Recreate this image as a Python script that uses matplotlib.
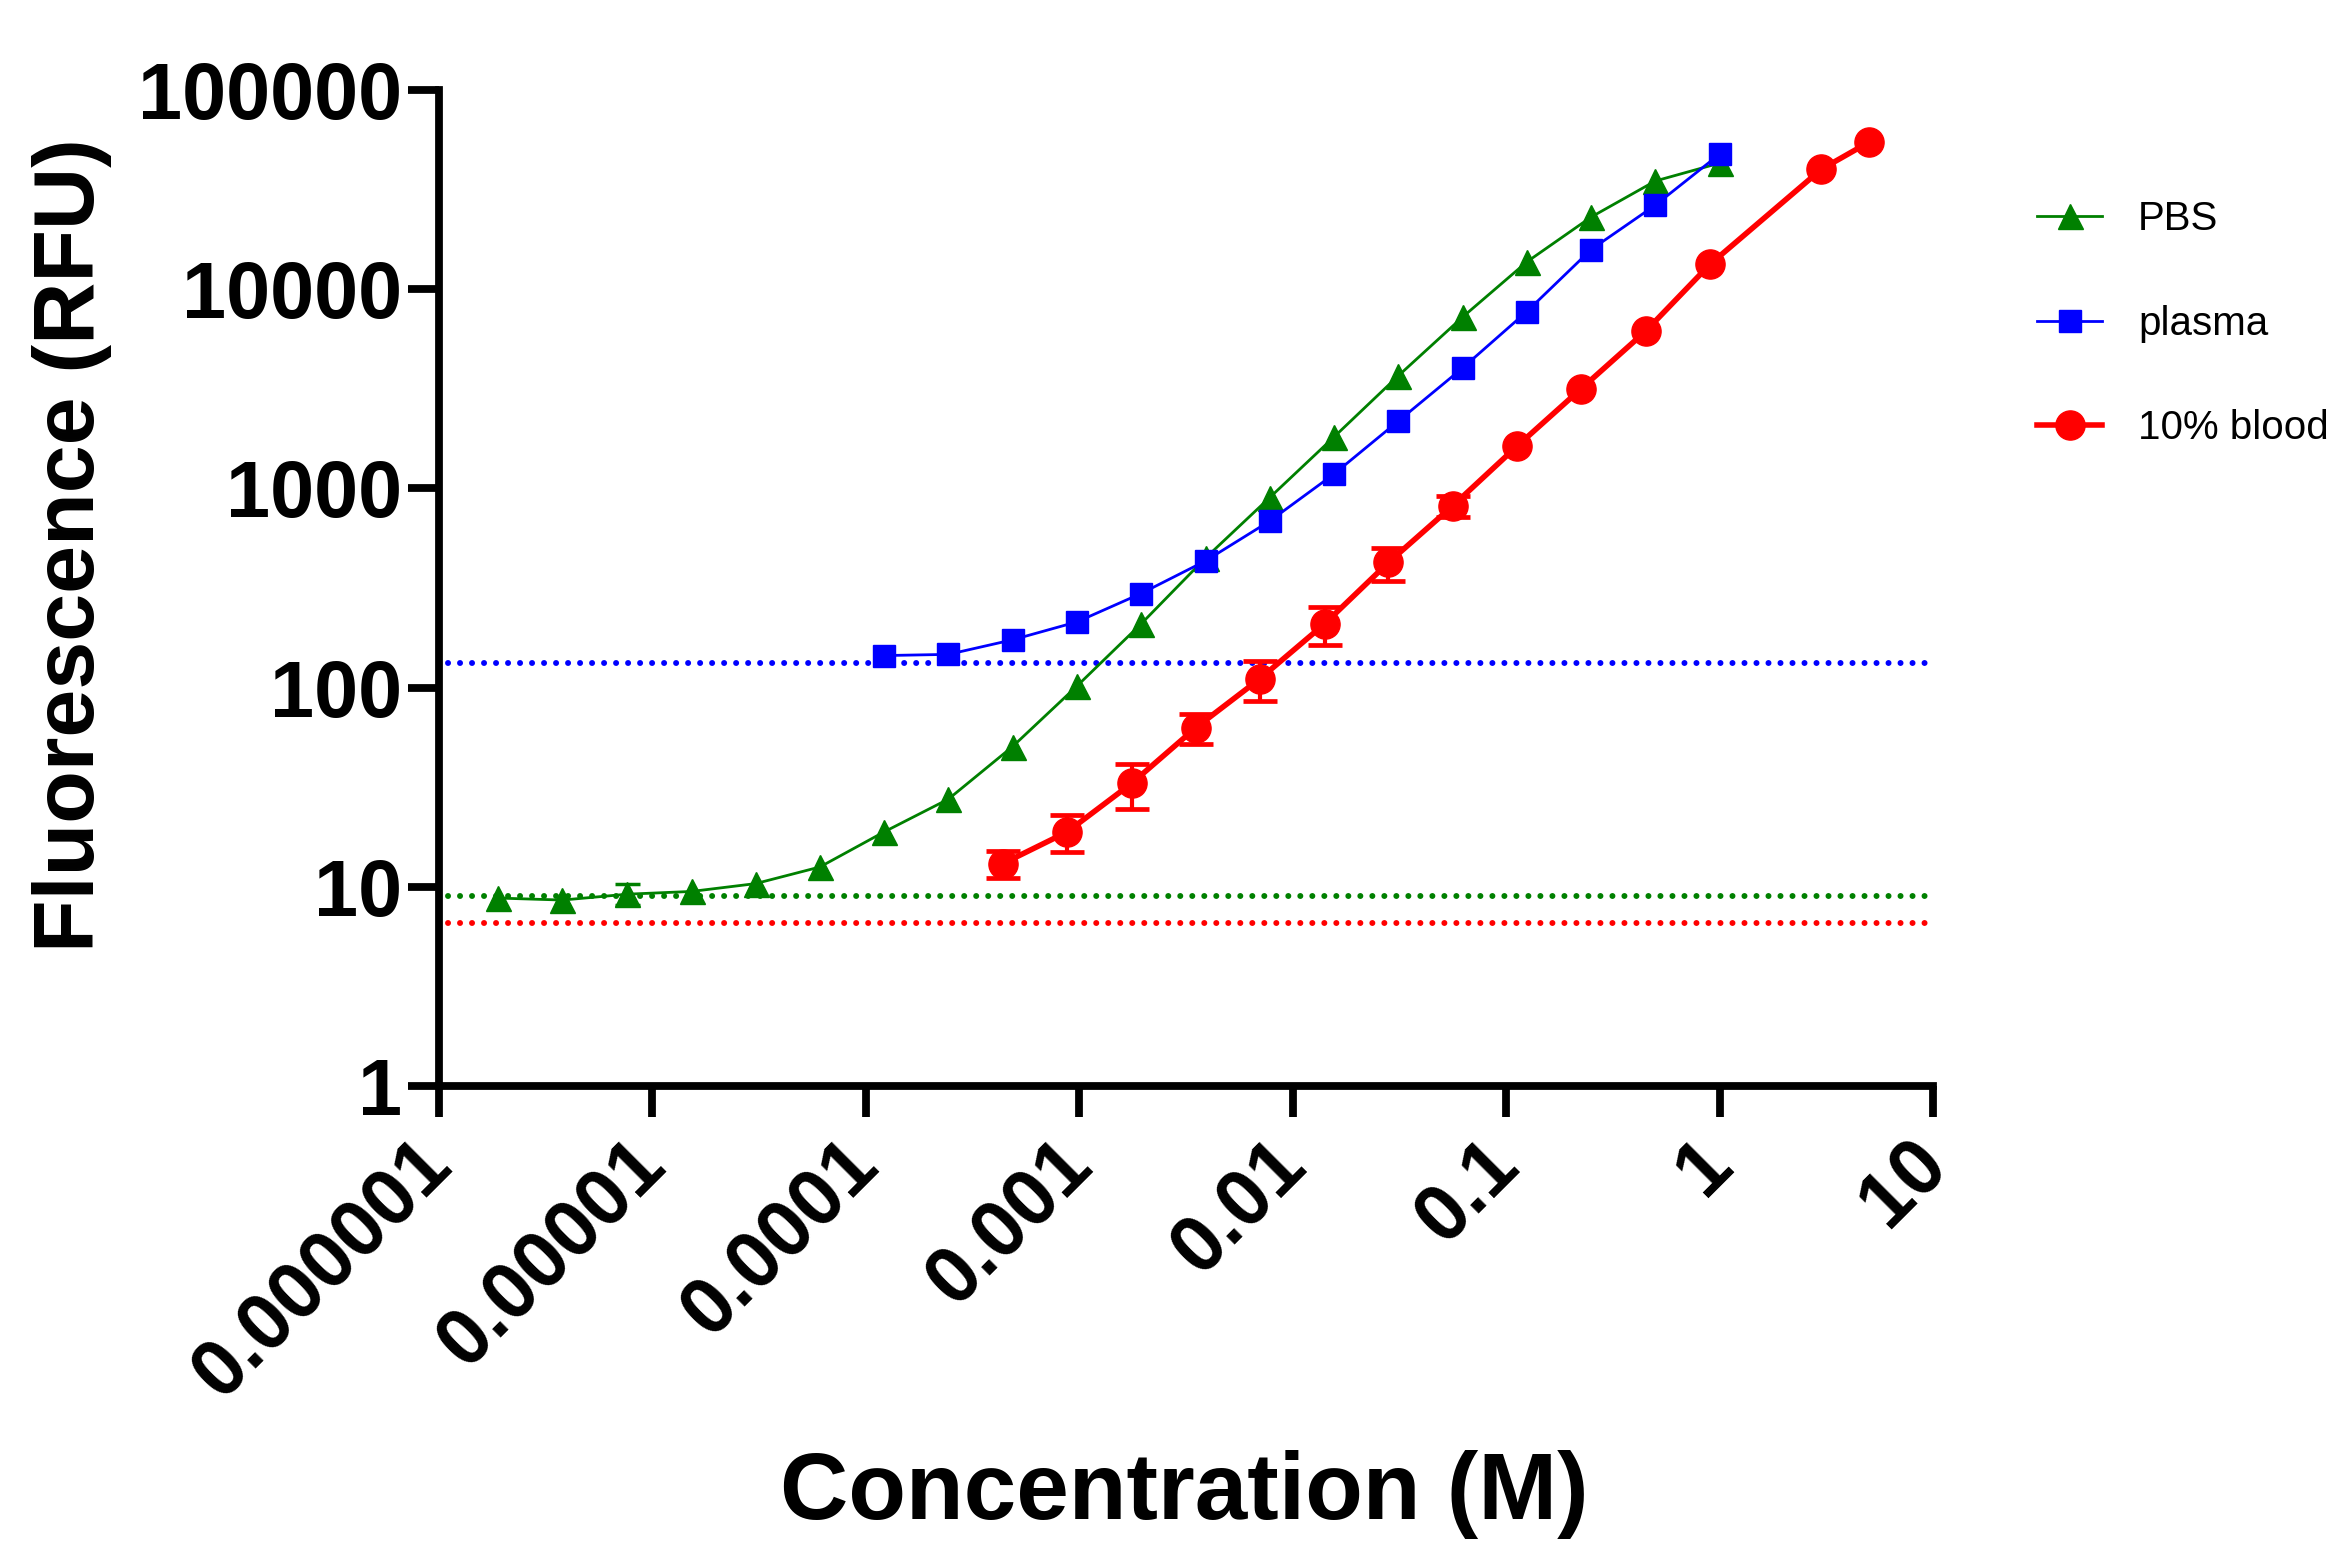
import matplotlib
matplotlib.use("Agg")
import matplotlib.pyplot as plt
import matplotlib.transforms as mtransforms
import numpy as np

plt.rcParams["font.family"] = ["Liberation Sans", "DejaVu Sans"]

# data
pbs_x = [1.9e-6, 3.8e-6, 7.6e-6, 1.53e-5, 3.05e-5, 6.1e-5, 1.22e-4, 2.44e-4, 4.88e-4, 9.77e-4,
         1.95e-3, 3.91e-3, 7.81e-3, 0.0156, 0.0313, 0.0625, 0.125, 0.25, 0.5, 1.0]
pbs_y = [8.8, 8.6, 9.2, 9.5, 10.4, 12.6, 18.9, 27.6, 50.7, 102,
         209, 448, 900, 1810, 3680, 7240, 13700, 23000, 34900, 42900]
pbs_err = [0, 0, 1.1, 0, 0, 0, 0, 0, 0, 0, 0, 0, 0, 0, 0, 0, 0, 0, 0, 0]

plasma_x = [1.22e-4, 2.44e-4, 4.88e-4, 9.77e-4, 1.95e-3, 3.91e-3, 7.81e-3,
            0.0156, 0.0313, 0.0625, 0.125, 0.25, 0.5, 1.0]
plasma_y = [145, 147, 174, 214, 297, 433, 686, 1180, 2180, 4020, 7720, 15800, 26400, 47600]

blood_x = [4.39e-4, 8.79e-4, 1.76e-3, 3.52e-3, 7.03e-3, 0.0141, 0.0281, 0.0563,
           0.1125, 0.225, 0.45, 0.9, 3.0, 5.0]
blood_y = [13.1, 18.9, 33.1, 63, 111, 209, 425, 819, 1630, 3170, 6150, 13300, 40000, 54600]
blood_err = [2.0, 4.0, 8.5, 11, 25, 45, 80, 100, 0, 0, 0, 0, 0, 0]

# baselines (dotted)
pbs_base = 9.0
plasma_base = 133
blood_base = 6.6

green = "#008000"
blue = "#0000FF"
red = "#FF0000"

fig = plt.figure(figsize=(23.46, 15.63), dpi=100)
ax = fig.add_axes([0.187, 0.305, 0.637, 0.6375])

dots = (0, (0.01, 2.0))
for base, col in [(plasma_base, blue), (pbs_base, green), (blood_base, red)]:
    ax.axhline(base, xmin=0.006, xmax=1, color=col, ls=dots, lw=4.3,
               dash_capstyle="round", zorder=1)

ax.plot(pbs_x, pbs_y, color=green, lw=2.0, marker="^", ms=18, label="PBS", zorder=3)
ax.plot(plasma_x, plasma_y, color=blue, lw=2.0, marker="s", ms=16, label="plasma", zorder=3)
ax.plot(blood_x, blood_y, color=red, lw=4.0, marker="o", ms=21, label="10% blood", zorder=4)

# error bars only where they are visible
px = np.array(pbs_x); py = np.array(pbs_y); pe = np.array(pbs_err)
m = pe > 0
ax.errorbar(px[m], py[m], yerr=pe[m], fmt="none", ecolor=green, elinewidth=2.2, capsize=9, capthick=2.5, zorder=3)
bx = np.array(blood_x); by = np.array(blood_y); be = np.array(blood_err)
m = be > 0
ax.errorbar(bx[m], by[m], yerr=be[m], fmt="none", ecolor=red, elinewidth=3, capsize=12.5, capthick=3.4, zorder=4)

ax.set_xscale("log")
ax.set_yscale("log")
ax.set_xlim(1e-6, 10)
ax.set_ylim(1, 100000)

xt = [1e-6, 1e-5, 1e-4, 1e-3, 1e-2, 1e-1, 1, 10]
xl = ["0.000001", "0.00001", "0.0001", "0.001", "0.01", "0.1", "1", "10"]
yt = [1, 10, 100, 1000, 10000, 100000]
yl = ["1", "10", "100", "1000", "10000", "100000"]
ax.set_xticks(xt)
ax.set_xticklabels([])
ax.set_yticks(yt)
ax.set_yticklabels(yl, fontsize=57, fontweight="bold")
ax.minorticks_off()

# rotated x tick labels, drawn as text so they can be nudged left
xlab_trans = mtransforms.blended_transform_factory(ax.transData, ax.transAxes) + \
    mtransforms.ScaledTranslation(-0.25, -0.40, fig.dpi_scale_trans)
for v, s in zip(xt, xl):
    ax.text(v, 0, s, transform=xlab_trans, rotation=45, ha="right", va="top",
            rotation_mode="anchor", fontsize=57, fontweight="bold", clip_on=False)

for s in ["top", "right"]:
    ax.spines[s].set_visible(False)
for s in ["left", "bottom"]:
    ax.spines[s].set_linewidth(5.6)
ax.tick_params(axis="both", which="major", length=22, width=5.6, direction="out")
ax.tick_params(axis="y", pad=4)

fig.text(0.505, 0.044, "Concentration (M)", fontsize=68, fontweight="bold", ha="center", va="center")
fig.text(0.0307, 0.651, "Fluorescence (RFU)", fontsize=62, fontweight="bold", rotation=90,
         ha="center", va="center")

fig.legend(loc="upper left", bbox_to_anchor=(0.853, 0.895), frameon=False, fontsize=29,
           handlelength=1.6, handletextpad=0.9, labelspacing=1.65, markerscale=1.0)

fig.savefig("out.png", dpi=100)
